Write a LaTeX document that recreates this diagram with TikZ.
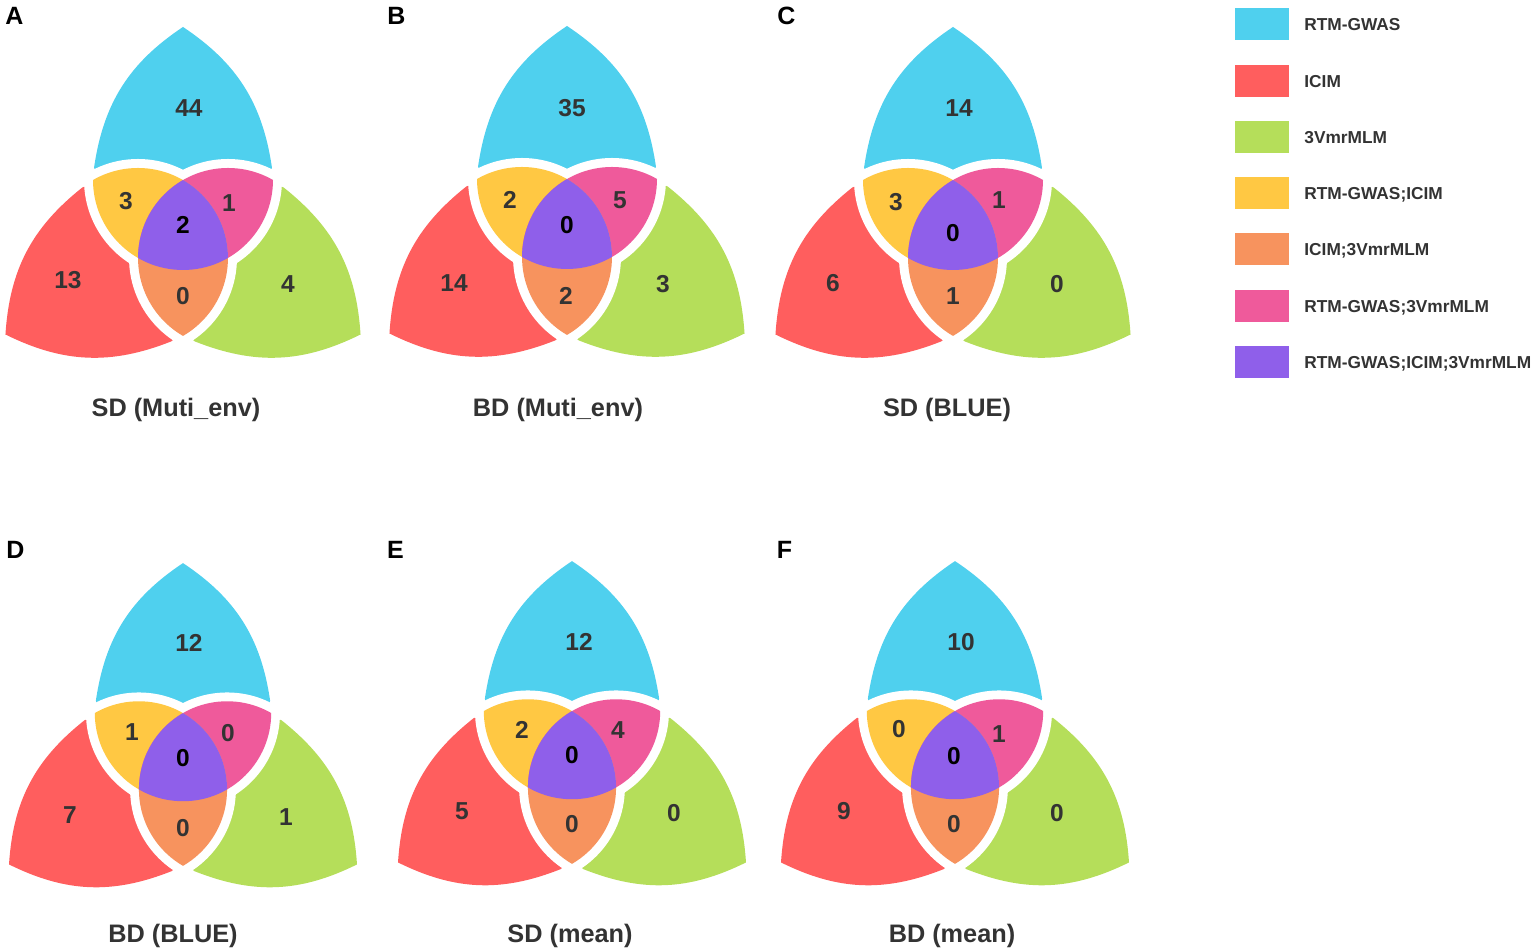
\documentclass[tikz,border=0pt]{standalone}
\usepackage{fontspec}
\setmainfont{Liberation Sans}
\usetikzlibrary{positioning}
\definecolor{rtm}{HTML}{4FD0EE}
\definecolor{icim}{HTML}{FF5E5E}
\definecolor{vmr}{HTML}{B5DE5A}
\definecolor{rtmicim}{HTML}{FFC843}
\definecolor{icimvmr}{HTML}{F7935E}
\definecolor{rtmvmr}{HTML}{EF5A9B}
\definecolor{allthree}{HTML}{8F5FEA}
\definecolor{ink}{HTML}{333333}
\tikzset{
  num/.style={font=\fontsize{24.5}{24.5}\selectfont\bfseries,text=ink,inner sep=0pt},
  numc/.style={num,text=black},
  ttl/.style={font=\fontsize{25.3}{25.3}\selectfont\bfseries,text=ink,inner sep=0pt,text depth=0pt},
  tag/.style={font=\fontsize{25}{25}\selectfont\bfseries,inner sep=0pt},
  legbox/.style={minimum width=54pt,minimum height=32pt,inner sep=0pt},
  legtxt/.style={font=\fontsize{17.3}{17.3}\selectfont\bfseries,text=ink,inner sep=0pt,text depth=0pt}
}
% one outer lobe, drawn upright and turned by #1
\newcommand{\lobe}[2]{%
  \fill[#2,rotate=#1] (90:205) to[bend right=24] (143.9:110) -- (150:100) -- (0,0)
    -- (30:100) -- (36.1:110) to[bend right=24] (90:205) -- cycle;}
% the three lobes, the white gap and the overlap core
\newcommand{\vennshape}{%
  \lobe{0}{rtm}\lobe{120}{icim}\lobe{240}{vmr}
  \foreach \a/\b in {90/210,90/330,210/330}{
    \begin{scope}
      \clip (\a:52) circle (99);
      \fill[white] (\b:52) circle (99);
    \end{scope}}
  \begin{scope}\clip (90:52) circle (90); \fill[rtmicim] (210:52) circle (90);\end{scope}
  \begin{scope}\clip (90:52) circle (90); \fill[rtmvmr] (330:52) circle (90);\end{scope}
  \begin{scope}\clip (210:52) circle (90); \fill[icimvmr] (330:52) circle (90);\end{scope}
  \begin{scope}\clip (90:52) circle (90); \clip (210:52) circle (90);
    \fill[allthree] (330:52) circle (90);\end{scope}}

\begin{document}
\begin{tikzpicture}[x=1pt,y=1pt]
\useasboundingbox (0,0) rectangle (1535,952);

\foreach \cx/\cy/\s in {183/720/1,567/721/1,953/720/1,183/188/0.98,572/190/0.98,955/190/0.98}{
  \begin{scope}[shift={(\cx,\cy)},scale=\s]
    \vennshape
  \end{scope}}

% counts
\foreach \t/\x/\y/\nm in {44/189/844/A-r,3/126/751/A-ri,1/229/749/A-rv,13/68/672/A-i,0/183/656/A-iv,4/288/668/A-v,
  35/572/844/B-r,2/510/752/B-ri,5/620/752/B-rv,14/454/669/B-i,2/566/656/B-iv,3/663/668/B-v,
  14/959/844/C-r,3/896/750/C-ri,1/999/752/C-rv,6/833/669/C-i,1/953/656/C-iv,0/1057/668/C-v,
  12/189/309/D-r,1/132/220/D-ri,0/228/219/D-rv,7/70/137/D-i,0/183/124/D-iv,1/286/135/D-v,
  12/579/310/E-r,2/522/222/E-ri,4/618/222/E-rv,5/462/141/E-i,0/572/128/E-iv,0/674/139/E-v,
  10/961/310/F-r,0/899/223/F-ri,1/999/218/F-rv,9/844/141/F-i,0/954/128/F-iv,0/1057/139/F-v}
  \node[num] (\nm) at (\x,\y) {\t};
\foreach \t/\x/\y/\nm in {2/183/727/A-all,0/567/727/B-all,0/953/719/C-all,
  0/183/194/D-all,0/572/197/E-all,0/954/196/F-all}
  \node[numc] (\nm) at (\x,\y) {\t};

% titles and panel letters
\node[ttl] (A-title) at (176,545) {SD (Muti\_env)};
\node[ttl] (B-title) at (558,545) {BD (Muti\_env)};
\node[ttl] (C-title) at (947,545) {SD (BLUE)};
\node[ttl] (D-title) at (173,19) {BD (BLUE)};
\node[ttl] (E-title) at (570,19) {SD (mean)};
\node[ttl] (F-title) at (952,19) {BD (mean)};
\node[tag] (A-tag) at (14.5,936) {A};
\node[tag] (B-tag) at (396.5,936) {B};
\node[tag] (C-tag) at (786.5,936) {C};
\node[tag] (D-tag) at (15.5,402) {D};
\node[tag] (E-tag) at (395.5,402) {E};
\node[tag] (F-tag) at (784.5,402) {F};

% legend
\foreach \c/\y/\t [count=\i] in {rtm/928/RTM-GWAS,icim/871/ICIM,vmr/814.5/3VmrMLM,
  rtmicim/758.5/RTM-GWAS;ICIM,icimvmr/703/ICIM;3VmrMLM,rtmvmr/646/RTM-GWAS;3VmrMLM,
  allthree/589.5/RTM-GWAS;ICIM;3VmrMLM}{
  \node[legbox,fill=\c] (sw\i) at (1262,\y) {};
  \node[legtxt,right=15pt of sw\i] (lt\i) {\t};}
\end{tikzpicture}
\end{document}
